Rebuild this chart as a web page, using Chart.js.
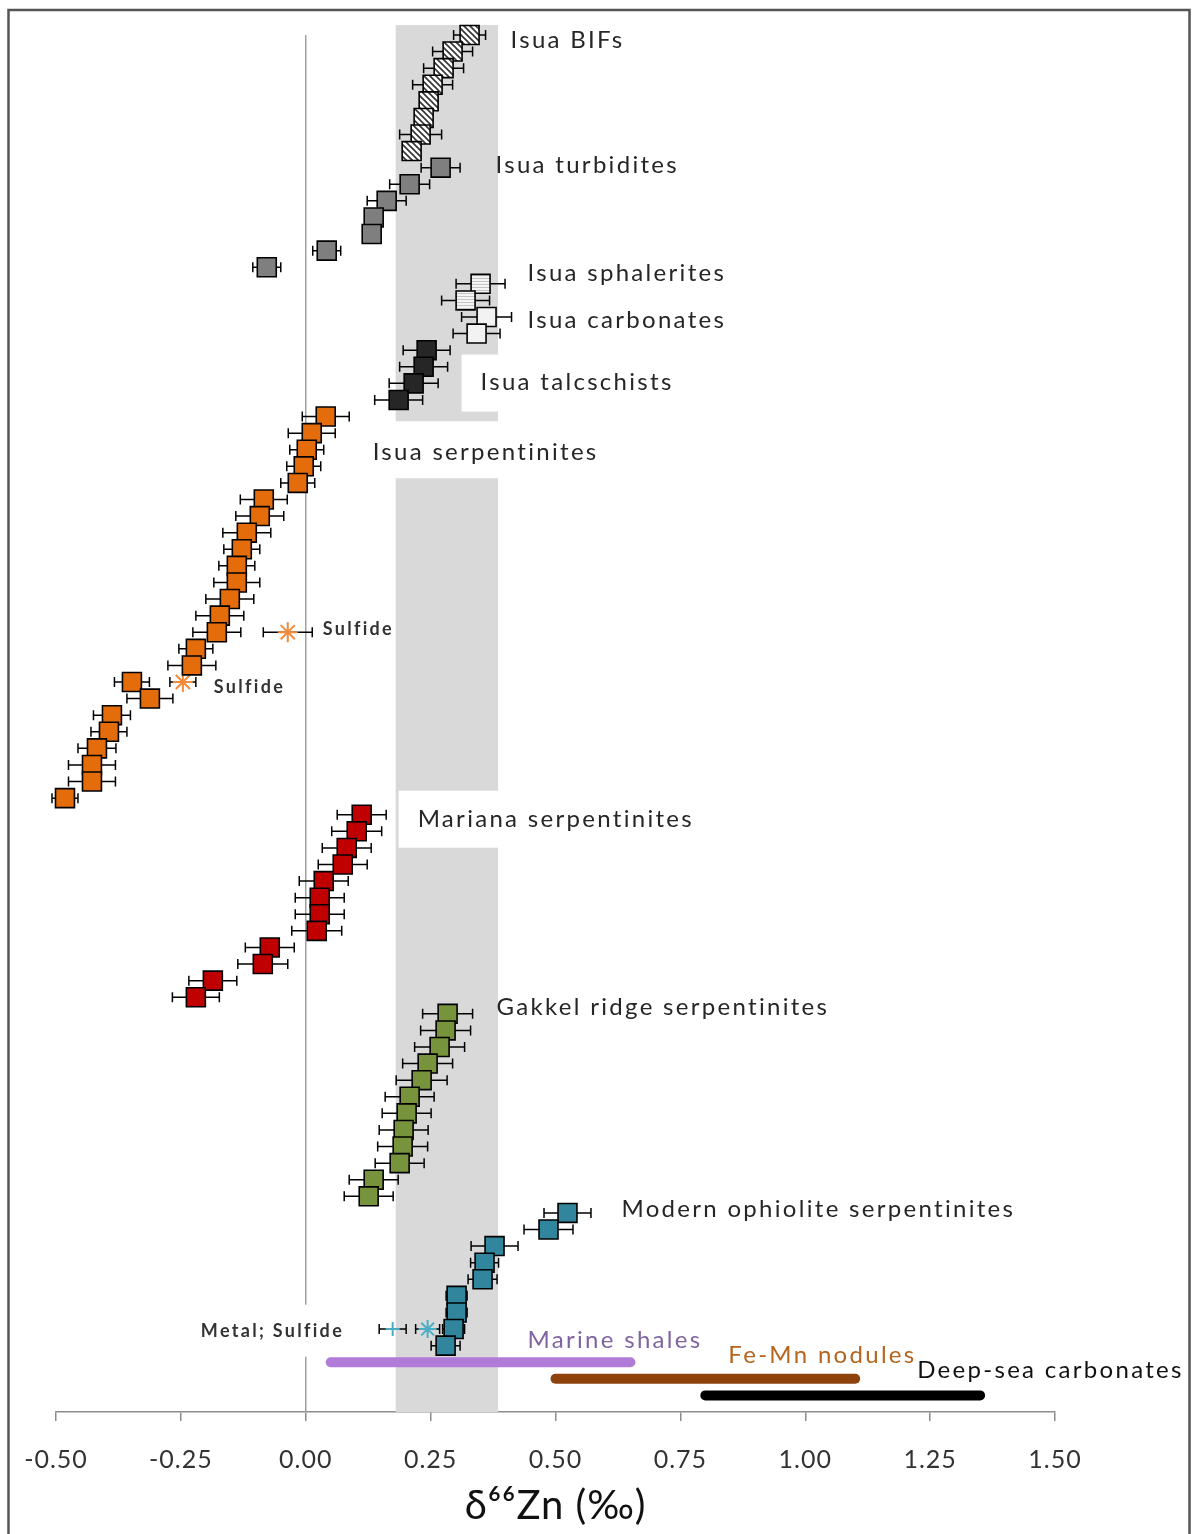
<!DOCTYPE html>
<html><head><meta charset="utf-8">
<script src="https://cdn.jsdelivr.net/npm/chart.js@4.4.1/dist/chart.umd.min.js"></script>
<style>html,body{margin:0;padding:0;background:#fff;}canvas{display:block;}</style>
</head><body>
<canvas id="c" width="1196" height="1534"></canvas>
<script>
// ---------------- DATA ----------------
const xTickValues = [-0.5,-0.25,0,0.25,0.5,0.75,1.0,1.25,1.5];
const xTickLabels = ['-0.50','-0.25','0.00','0.25','0.50','0.75','1.00','1.25','1.50'];

const bifRows = [0,1,2,3,4,5,6,7];
const bifVals = [0.328,0.294,0.276,0.254,0.246,0.236,0.230,0.212];
const bifErr  = [0.032,0.040,0.040,0.040,0.015,0.015,0.042,0.015];

const turbRows = [8,9,10,11,12,13,14];
const turbVals = [0.270,0.208,0.162,0.136,0.132,0.042,-0.078];
const turbErr  = [0.039,0.040,0.039,0.015,0.015,0.028,0.028];

const sphRows = [15,16];
const sphVals = [0.350,0.320];
const sphErr  = [0.049,0.048];

const carbRows = [17,18];
const carbVals = [0.362,0.342];
const carbErr  = [0.050,0.047];

const talcRows = [19,20,21,22];
const talcVals = [0.242,0.236,0.216,0.186];
const talcErr  = [0.047,0.048,0.049,0.048];

const serpRows = [23,24,25,26,27,28,29,30,31,32,33,34,35,36,37,38,39,40,41,42,43,44,45,46];
const serpVals = [0.040,0.012,0.002,-0.004,-0.016,-0.084,-0.092,-0.118,-0.128,-0.138,-0.138,-0.152,
                  -0.172,-0.178,-0.220,-0.228,-0.348,-0.312,-0.388,-0.394,-0.418,-0.428,-0.428,-0.482];
const serpErr  = [0.047,0.047,0.034,0.034,0.034,0.047,0.048,0.048,0.036,0.036,0.046,0.048,
                  0.048,0.048,0.034,0.048,0.035,0.046,0.037,0.036,0.038,0.047,0.047,0.026];

const serpSulfRows = [36,39];
const serpSulfVals = [-0.036,-0.246];
const serpSulfErr  = [0.049,0.026];

const marRows = [47,48,49,50,51,52,53,54,55,56,57,58];
const marVals = [0.112,0.102,0.082,0.074,0.036,0.028,0.028,0.022,-0.072,-0.086,-0.186,-0.220];
const marErr  = [0.049,0.050,0.049,0.049,0.049,0.049,0.049,0.050,0.049,0.050,0.048,0.047];

const gakRows = [59,60,61,62,63,64,65,66,67,68,69,70];
const gakVals = [0.284,0.280,0.268,0.244,0.232,0.208,0.202,0.196,0.194,0.188,0.136,0.126];
const gakErr  = [0.050,0.050,0.050,0.050,0.051,0.049,0.049,0.049,0.050,0.049,0.049,0.049];

const ophRows = [71,72,73,74,75,76,77,78,79];
const ophVals = [0.524,0.486,0.378,0.358,0.354,0.302,0.302,0.296,0.280];
const ophErr  = [0.047,0.049,0.047,0.028,0.029,0.021,0.021,0.022,0.029];

const ophSulfRows = [78];
const ophSulfVals = [0.244];
const ophSulfErr  = [0.024];

const ophMetalRows = [78];
const ophMetalVals = [0.174];
const ophMetalErr  = [0.027];

const rangeNames = ['Marine shales','Fe-Mn nodules','Deep-sea carbonates'];
const rangeRows  = [80,81,82];
const rangeFrom  = [0.05,0.50,0.80];
const rangeTo    = [0.65,1.10,1.35];

const bandFrom = 0.18, bandTo = 0.385;

// ---------------- STYLE / ANNOTATIONS ----------------
const labels = [
  {t:'Isua BIFs', x:0.41, r:0.3},
  {t:'Isua turbidites', x:0.38, r:7.85},
  {t:'Isua sphalerites', x:0.444, r:14.35},
  {t:'Isua carbonates', x:0.444, r:17.2},
  {t:'Isua talcschists', x:0.35, r:20.95, box:[-19,-28,57]},
  {t:'Isua serpentinites', x:0.134, r:25.15, box:[-19,-31,57]},
  {t:'Sulfide', x:0.034, r:35.8, small:true},
  {t:'Sulfide', x:-0.184, r:39.3, small:true},
  {t:'Mariana serpentinites', x:0.224, r:47.3, box:[-19,-29,57]},
  {t:'Gakkel ridge serpentinites', x:0.382, r:58.6},
  {t:'Modern ophiolite serpentinites', x:0.632, r:70.8},
  {t:'Metal; Sulfide', x:-0.21, r:78.1, small:true, box:[-19,-26,52]},
  {t:'Marine shales', x:0.444, r:78.65, color:'#8064A2'},
  {t:'Fe-Mn nodules', x:0.846, r:79.6, color:'#B5651D'},
  {t:'Deep-sea carbonates', x:1.224, r:80.5, color:'#111'}
];

function diagPattern(){
  const c=document.createElement('canvas'); c.width=6; c.height=6;
  const g=c.getContext('2d'); g.fillStyle='#fff'; g.fillRect(0,0,6,6);
  g.strokeStyle='#333'; g.lineWidth=1.6; g.beginPath();
  g.moveTo(-1,-1); g.lineTo(7,7); g.moveTo(-1,5); g.lineTo(1,7); g.moveTo(5,-1); g.lineTo(7,1);
  g.stroke(); return g.createPattern(c,'repeat');
}
function horizPattern(){
  const c=document.createElement('canvas'); c.width=4; c.height=3;
  const g=c.getContext('2d'); g.fillStyle='#f4f4f4'; g.fillRect(0,0,4,3);
  g.fillStyle='#c4c4c4'; g.fillRect(0,2,4,1); return g.createPattern(c,'repeat');
}

const SQ_R = 13.4;
function sq(label, rows, vals, errs, fill){
  return {label, errs, data: rows.map((r,i)=>({x:vals[i], y:r})),
    pointStyle:'rect', pointRadius:SQ_R, pointHoverRadius:SQ_R, backgroundColor:fill, borderColor:'#000',
    borderWidth:1.6, showLine:false, clip:false};
}
function mk(label, rows, vals, errs, style, color, r){
  return {label, errs, data: rows.map((r2,i)=>({x:vals[i], y:r2})),
    pointStyle:style, pointRadius:r, pointHoverRadius:r, backgroundColor:color, borderColor:color,
    borderWidth:2, showLine:false, clip:false};
}
const rangeColors = ['#B07CD8','#8F430C','#000000'];

const datasets = [
  sq('Isua BIFs', bifRows, bifVals, bifErr, diagPattern()),
  sq('Isua turbidites', turbRows, turbVals, turbErr, '#7F7F7F'),
  sq('Isua sphalerites', sphRows, sphVals, sphErr, horizPattern()),
  sq('Isua carbonates', carbRows, carbVals, carbErr, '#F2F2F2'),
  sq('Isua talcschists', talcRows, talcVals, talcErr, '#262626'),
  sq('Isua serpentinites', serpRows, serpVals, serpErr, '#E46C0A'),
  mk('Isua serpentinites sulfide', serpSulfRows, serpSulfVals, serpSulfErr, 'star', '#F38A3A', 10),
  sq('Mariana serpentinites', marRows, marVals, marErr, '#C00000'),
  sq('Gakkel ridge serpentinites', gakRows, gakVals, gakErr, '#77933C'),
  sq('Modern ophiolite serpentinites', ophRows, ophVals, ophErr, '#31859C'),
  mk('Ophiolite sulfide', ophSulfRows, ophSulfVals, ophSulfErr, 'star', '#4BACC6', 9),
  mk('Ophiolite metal', ophMetalRows, ophMetalVals, ophMetalErr, 'cross', '#4BACC6', 7)
];
rangeNames.forEach((n,i)=>{
  datasets.push({type:'line', label:n, data:[{x:rangeFrom[i],y:rangeRows[i]},{x:rangeTo[i],y:rangeRows[i]}],
    borderColor:rangeColors[i], borderWidth:10, borderCapStyle:'round', pointRadius:0, showLine:true, clip:false, fill:false});
});

const FONT = 'Lato, "Open Sans", sans-serif';
const LABEL_SPACING = '2.3px';

const decor = {
  id:'decor',
  beforeDraw(chart){
    const ctx=chart.ctx; ctx.save(); ctx.fillStyle='#fff'; ctx.fillRect(0,0,chart.width,chart.height); ctx.restore();
    ctx.letterSpacing = '1px';
  },
  beforeDatasetsDraw(chart){
    const ctx=chart.ctx, xs=chart.scales.x, ys=chart.scales.y;
    ctx.save();
    // band
    ctx.fillStyle='#D9D9D9';
    const bx1=xs.getPixelForValue(bandFrom), bx2=xs.getPixelForValue(bandTo);
    ctx.fillRect(bx1, ys.getPixelForValue(-0.6), bx2-bx1, ys.getPixelForValue(83)-ys.getPixelForValue(-0.6));
    // zero line
    ctx.strokeStyle='#A0A0A0'; ctx.lineWidth=1.5; ctx.beginPath();
    ctx.moveTo(xs.getPixelForValue(0), ys.getPixelForValue(0)); ctx.lineTo(xs.getPixelForValue(0), ys.getPixelForValue(83)); ctx.stroke();
    // label boxes
    ctx.letterSpacing = LABEL_SPACING;
    labels.forEach(l=>{
      if(!l.box) return;
      ctx.font = l.small ? ('bold 18px '+FONT) : ('24px '+FONT);
      const w=ctx.measureText(l.t).width, px=xs.getPixelForValue(l.x), py=ys.getPixelForValue(l.r);
      ctx.fillStyle='#fff'; ctx.fillRect(px+l.box[0], py+l.box[1], w-2*l.box[0], l.box[2]);
    });
    // error bars
    ctx.strokeStyle='#000'; ctx.lineWidth=1.5;
    chart.data.datasets.forEach((ds,i)=>{
      if(!ds.errs) return;
      const meta=chart.getDatasetMeta(i);
      meta.data.forEach((pt,j)=>{
        const v=ds.data[j].x, e=ds.errs[j];
        const x1=xs.getPixelForValue(v-e), x2=xs.getPixelForValue(v+e), y=pt.y;
        ctx.beginPath(); ctx.moveTo(x1,y); ctx.lineTo(x2,y);
        ctx.moveTo(x1,y-5); ctx.lineTo(x1,y+5); ctx.moveTo(x2,y-5); ctx.lineTo(x2,y+5); ctx.stroke();
      });
    });
    ctx.restore();
  },
  afterDatasetsDraw(chart){
    const ctx=chart.ctx, xs=chart.scales.x, ys=chart.scales.y;
    ctx.save(); ctx.textBaseline='middle'; ctx.textAlign='left'; ctx.letterSpacing = LABEL_SPACING;
    labels.forEach(l=>{
      ctx.font = l.small ? ('bold 18px '+FONT) : ('24px '+FONT);
      ctx.fillStyle = l.color || (l.small ? '#333' : '#262626');
      ctx.fillText(l.t, xs.getPixelForValue(l.x), ys.getPixelForValue(l.r));
    });
    ctx.restore();
  },
  afterDraw(chart){
    const ctx=chart.ctx; ctx.save(); ctx.strokeStyle='#555'; ctx.lineWidth=2.5;
    ctx.strokeRect(8.5,10,1181,1540); ctx.restore();
  }
};

new Chart(document.getElementById('c'), {
  type:'scatter',
  data:{datasets},
  plugins:[decor],
  options:{
    responsive:false, animation:false, events:[],
    layout:{padding:{left:56, right:141, top:25, bottom:0}},
    plugins:{legend:{display:false}, tooltip:{enabled:false}},
    scales:{
      x:{type:'linear', min:-0.5, max:1.5,
        afterBuildTicks:s=>{ s.ticks = xTickValues.map(v=>({value:v})); },
        ticks:{callback:(v,i)=>xTickLabels[i], font:{family:FONT, size:25}, color:'#333', padding:24, maxRotation:0, autoSkip:false},
        grid:{drawOnChartArea:false, drawTicks:true, tickLength:9, color:'#8C8C8C', lineWidth:1.5},
        border:{display:true, color:'#8C8C8C', width:1.5},
        title:{display:true, text:'δ⁶⁶Zn (‰)', font:{family:FONT, size:40}, color:'#111', padding:{top:0,bottom:4}},
        afterFit:s=>{ s.height = 122; }
      },
      y:{type:'linear', reverse:true, min:-0.6, max:83, display:false}
    }
  }
});
</script>
</body></html>
